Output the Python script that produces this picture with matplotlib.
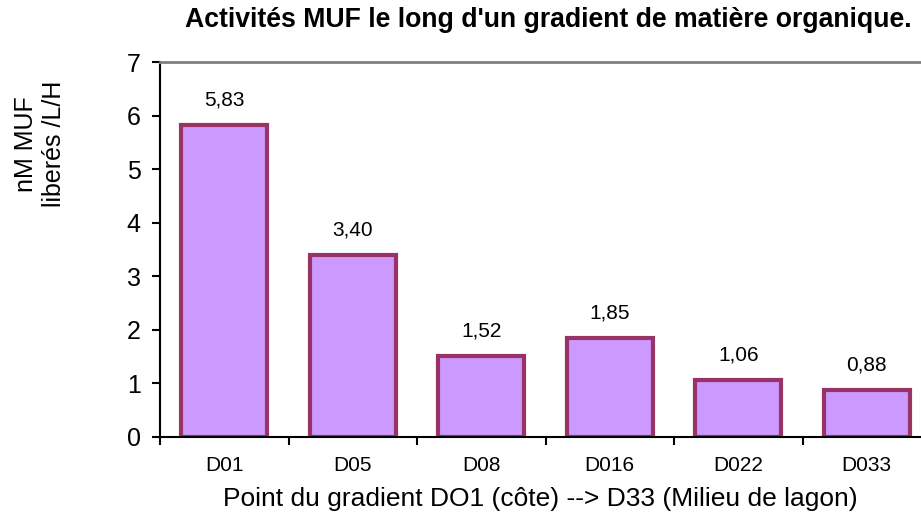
import matplotlib
matplotlib.use("Agg")
import matplotlib.pyplot as plt

categories = ["D01", "D05", "D08", "D016", "D022", "D033"]
values = [5.83, 3.40, 1.52, 1.85, 1.06, 0.88]
value_labels = ["5,83", "3,40", "1,52", "1,85", "1,06", "0,88"]
yticks = [0, 1, 2, 3, 4, 5, 6, 7]

plt.rcParams['font.family'] = ['Liberation Sans', 'DejaVu Sans']

fig = plt.figure(figsize=(9.21, 5.17), dpi=100)
ax = fig.add_axes([160/921, 1-437/517, 1-160/921, (437-62)/517])

x = list(range(len(categories)))
ax.bar(x, values, width=0.67, color="#CC99FF", edgecolor="#993366", linewidth=3, zorder=2)

for xi, v, lab in zip(x, values, value_labels):
    ax.annotate(lab, (xi, v), xytext=(0, 18), textcoords="offset points",
                ha="center", va="center", fontsize=15)

ax.set_yticks(yticks)
ax.set_yticklabels([str(t) for t in yticks], fontsize=18)
ax.set_xticks(x)
ax.set_xticklabels(categories, fontsize=15)
ax.set_xticks([i - 0.5 for i in range(len(categories) + 1)], minor=True)
ax.set_ylim(0, 7)
ax.set_xlim(-0.5, -0.5 + 761/128.5)
ax.tick_params(axis="x", which="major", length=0, pad=14)
ax.tick_params(axis="x", which="minor", length=6, width=1.5, direction="out")
ax.tick_params(axis="y", length=6, width=1.5, direction="out", pad=8)

ax.spines["right"].set_visible(False)
ax.spines["top"].set_color("#808080")
ax.spines["top"].set_linewidth(2)
ax.spines["left"].set_linewidth(1.5)
ax.spines["bottom"].set_linewidth(1.5)

ax.set_xlabel("Point du gradient DO1 (côte) --> D33 (Milieu de lagon)", fontsize=19, labelpad=8)
fig.text(40/921, 1-144/517, "nM MUF\nliberés /L/H", rotation=90, ha="center", va="center",
         fontsize=18, multialignment="center", linespacing=1.25)
fig.text(548/921, 1-20/517, "Activités MUF le long d'un gradient de matière organique.",
         ha="center", va="center", fontsize=19.2, fontweight="bold")

fig.savefig("out.png", dpi=100)
